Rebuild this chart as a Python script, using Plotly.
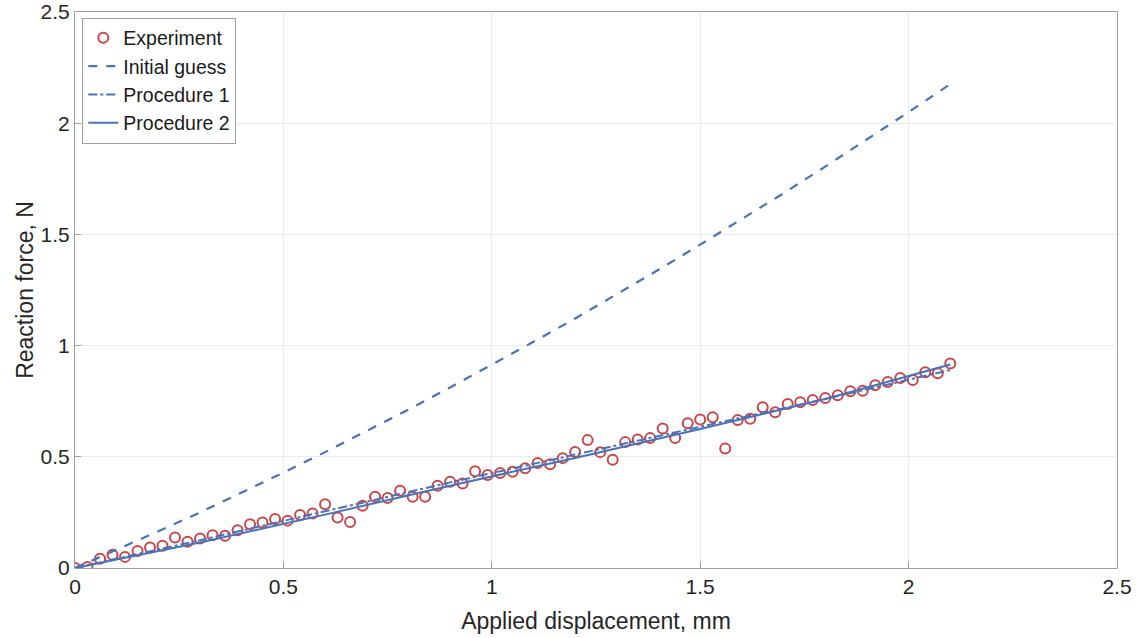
import plotly.graph_objects as go

exp_x = [0.00, 0.03, 0.06, 0.09, 0.12, 0.15, 0.18, 0.21, 0.24, 0.27,
         0.30, 0.33, 0.36, 0.39, 0.42, 0.45, 0.48, 0.51, 0.54, 0.57,
         0.60, 0.63, 0.66, 0.69, 0.72, 0.75, 0.78, 0.81, 0.84, 0.87,
         0.90, 0.93, 0.96, 0.99, 1.02, 1.05, 1.08, 1.11, 1.14, 1.17,
         1.20, 1.23, 1.26, 1.29, 1.32, 1.35, 1.38, 1.41, 1.44, 1.47,
         1.50, 1.53, 1.56, 1.59, 1.62, 1.65, 1.68, 1.71, 1.74, 1.77,
         1.80, 1.83, 1.86, 1.89, 1.92, 1.95, 1.98, 2.01, 2.04, 2.07, 2.10]
exp_y = [0.000, 0.005, 0.042, 0.060, 0.050, 0.076, 0.092, 0.100, 0.137, 0.118,
         0.133, 0.147, 0.145, 0.170, 0.197, 0.205, 0.220, 0.213, 0.238, 0.245,
         0.287, 0.227, 0.207, 0.280, 0.320, 0.315, 0.347, 0.320, 0.320, 0.370,
         0.388, 0.380, 0.435, 0.418, 0.427, 0.433, 0.448, 0.472, 0.466, 0.494,
         0.522, 0.575, 0.521, 0.487, 0.566, 0.578, 0.584, 0.627, 0.585, 0.651,
         0.668, 0.678, 0.537, 0.665, 0.671, 0.723, 0.700, 0.737, 0.745, 0.755,
         0.764, 0.777, 0.795, 0.797, 0.822, 0.836, 0.854, 0.845, 0.880, 0.876, 0.920]

guess_x = [0.0, 0.1, 0.2, 0.3, 0.4, 0.5, 0.6, 0.7, 0.8, 0.9, 1.0,
           1.1, 1.2, 1.3, 1.4, 1.5, 1.6, 1.7, 1.8, 1.9, 2.0, 2.1]
guess_y = [0.000, 0.081, 0.165, 0.250, 0.338, 0.429, 0.521, 0.616, 0.712, 0.812, 0.913,
           1.017, 1.122, 1.231, 1.341, 1.454, 1.568, 1.685, 1.805, 1.926, 2.050, 2.176]

proc_x = [0.0, 0.3, 0.6, 0.9, 1.2, 1.5, 1.8, 2.1]
proc1_y = [0.000, 0.125, 0.255, 0.385, 0.510, 0.635, 0.760, 0.890]
proc2_y = [0.000, 0.115, 0.240, 0.370, 0.495, 0.625, 0.760, 0.915]

ticks = [0, 0.5, 1, 1.5, 2, 2.5]
tick_text = ["0", "0.5", "1", "1.5", "2", "2.5"]

RED = "#c9474b"
BLUE = "#4a72b8"
FONT = "Liberation Sans, Arial, sans-serif"

fig = go.Figure()
fig.add_trace(go.Scatter(x=exp_x, y=exp_y, mode="markers", name="Experiment",
                         marker=dict(symbol="circle-open", size=10, color=RED,
                                     line=dict(width=2, color=RED))))
fig.add_trace(go.Scatter(x=guess_x, y=guess_y, mode="lines", name="Initial guess",
                         line=dict(color=BLUE, width=2.2, dash="dash")))
fig.add_trace(go.Scatter(x=proc_x, y=proc1_y, mode="lines", name="Procedure 1",
                         line=dict(color=BLUE, width=2, dash="dashdot")))
fig.add_trace(go.Scatter(x=proc_x, y=proc2_y, mode="lines", name="Procedure 2",
                         line=dict(color=BLUE, width=2, dash="solid")))

axis_common = dict(range=[0, 2.5], tickvals=ticks, ticktext=tick_text,
                   showgrid=True, gridcolor="#ebebeb", gridwidth=1,
                   showline=True, linecolor="#a0a0a0", linewidth=1, mirror=True,
                   ticks="inside", ticklen=6, tickcolor="#a0a0a0",
                   automargin=False,
                   zeroline=False, tickfont=dict(family=FONT, size=21, color="#262626"))

fig.update_layout(
    width=1138, height=638,
    margin=dict(l=75, r=21, t=12, b=70),
    paper_bgcolor="white", plot_bgcolor="white",
    font=dict(family=FONT, color="#262626"),
    xaxis=dict(**axis_common,
               title=dict(text="Applied displacement, mm", font=dict(family=FONT, size=23, color="#262626"), standoff=15)),
    yaxis=dict(**axis_common,
               title=dict(text="Reaction force, N", font=dict(family=FONT, size=23, color="#262626"), standoff=0)),
    legend=dict(x=0.007, y=0.99, xanchor="left", yanchor="top",
                bgcolor="white", bordercolor="#a0a0a0", borderwidth=1,
                font=dict(family=FONT, size=19.5, color="#1a1a1a"),
                tracegroupgap=0, itemwidth=30),
    showlegend=True,
)

fig.write_html("out.html", config={"displayModeBar": False},
               post_script="document.body.style.margin='0px';")
